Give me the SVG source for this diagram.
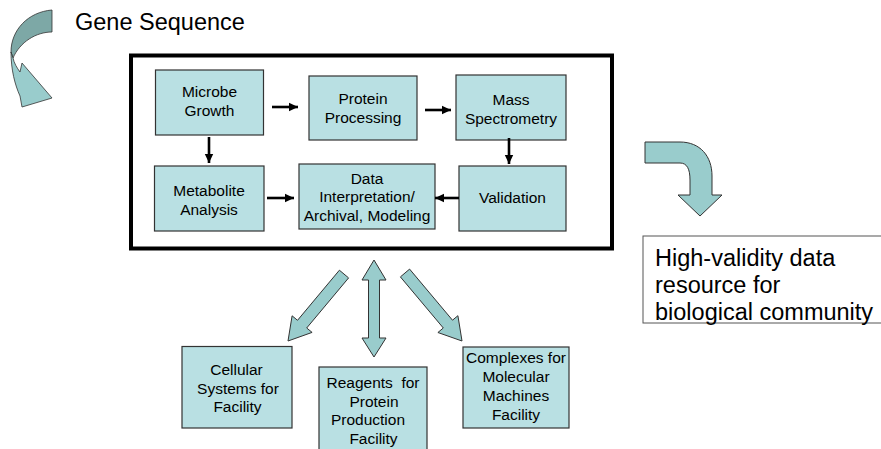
<svg xmlns="http://www.w3.org/2000/svg" width="881" height="449" viewBox="0 0 881 449">
<style>
text{font-family:"Liberation Sans",Arial,sans-serif;fill:#000}
.box{fill:#B9E0E3;stroke:#333;stroke-width:1.2}
.t{font-size:15.5px;text-anchor:middle}
.big{font-size:23.5px}
.blk{fill:#99CCCC;stroke:#333;stroke-width:1}
.con{stroke:#000;stroke-width:2.6;fill:none;marker-end:url(#ah)}
</style>
<defs>
<marker id="ah" markerUnits="userSpaceOnUse" markerWidth="10" markerHeight="10" refX="9" refY="5" orient="auto">
<path d="M0,0.8 L9,5 L0,9.2 Z" fill="#000"/>
</marker>
</defs>
<rect x="0" y="0" width="881" height="449" fill="#fff"/>

<g id="gene-sequence">
<path d="M52,10 C28,12 11,30 11,52 L13,58 C20,42 36,32 52,32 Z" fill="#7DA8A6" stroke="#333" stroke-width="0.8"/>
<path d="M11,52 C11,70 15,85 20,96 L22,107 L52,98 L22,63 L20,72 C17,68 14,63 13,58 Z" fill="#99CCCC" stroke="#333" stroke-width="0.8"/>
<text class="big" x="75" y="30">Gene Sequence</text>
</g>

<g id="frame">
<rect x="131" y="55.5" width="481" height="193" fill="none" stroke="#000" stroke-width="4"/>
</g>

<g id="microbe-growth">
<rect class="box" x="155.5" y="70" width="108" height="65"/>
<text class="t" x="209.5" y="97">Microbe</text>
<text class="t" x="209.5" y="116">Growth</text>
</g>
<g id="protein-processing">
<rect class="box" x="309" y="76" width="108" height="64"/>
<text class="t" x="363" y="104">Protein</text>
<text class="t" x="363" y="123">Processing</text>
</g>
<g id="mass-spectrometry">
<rect class="box" x="456" y="75" width="110" height="65"/>
<text class="t" x="511" y="105">Mass</text>
<text class="t" x="511" y="123.5">Spectrometry</text>
</g>
<g id="metabolite-analysis">
<rect class="box" x="154.5" y="166" width="109.5" height="65"/>
<text class="t" x="209" y="196">Metabolite</text>
<text class="t" x="209" y="214.5">Analysis</text>
</g>
<g id="data-interpretation">
<rect class="box" x="299" y="164" width="136" height="65"/>
<text class="t" x="367" y="183.5">Data</text>
<text class="t" x="367" y="202">Interpretation/</text>
<text class="t" x="367" y="220.5">Archival, Modeling</text>
</g>
<g id="validation">
<rect class="box" x="459" y="166" width="107" height="65"/>
<text class="t" x="512.5" y="203">Validation</text>
</g>

<g id="connectors">
<line class="con" x1="272" y1="107" x2="298" y2="107"/>
<line class="con" x1="425" y1="110" x2="451" y2="110"/>
<line class="con" x1="209" y1="137" x2="209" y2="163"/>
<line class="con" x1="509" y1="138" x2="509" y2="164"/>
<line class="con" x1="267" y1="198" x2="294" y2="198"/>
<line class="con" x1="459" y1="198" x2="435" y2="198"/>
<polygon class="blk" points="339.4,270.2 297.5,320.3 292.1,315.8 288,341 312.1,332.4 306.7,328 348.6,277.9"/>
<polygon class="blk" points="374,260 386,280 379.5,280 379.5,338 386,338 374,357 362,338 368.5,338 368.5,280 362,280"/>
<polygon class="blk" points="409.6,269.1 452.5,320.2 457.9,315.7 462,341 437.9,332.5 443.3,328 400.4,276.9"/>
<path class="blk" d="M645,142 L680,142 C700,142 712,156 712,176 L712,195 L722,195 L700,216 L678,195 L690,195 L690,180 C690,169 687,163 680,163 L645,163 Z"/>
</g>

<g id="cellular-systems">
<rect class="box" x="182" y="346.5" width="110" height="81.5"/>
<text class="t" x="236.5" y="375">Cellular</text>
<text class="t" x="238" y="393.5">Systems for</text>
<text class="t" x="237.5" y="412">Facility</text>
</g>
<g id="reagents">
<rect class="box" x="319" y="367" width="108" height="90"/>
<text class="t" x="373" y="388" xml:space="preserve">Reagents  for</text>
<text class="t" x="374" y="406.5">Protein</text>
<text class="t" x="368" y="425">Production</text>
<text class="t" x="373.5" y="443.5">Facility</text>
</g>
<g id="complexes">
<rect class="box" x="463" y="347" width="106" height="81"/>
<text class="t" x="516" y="362.5">Complexes for</text>
<text class="t" x="516" y="381.5">Molecular</text>
<text class="t" x="516" y="400.5">Machines</text>
<text class="t" x="516" y="419.5">Facility</text>
</g>

<g id="high-validity">
<rect x="643" y="236" width="245" height="87" fill="#fff" stroke="#555" stroke-width="1"/>
<text class="big" x="655" y="266">High-validity data</text>
<text class="big" x="655" y="293">resource for</text>
<text class="big" x="655" y="320">biological community</text>
</g>
</svg>
